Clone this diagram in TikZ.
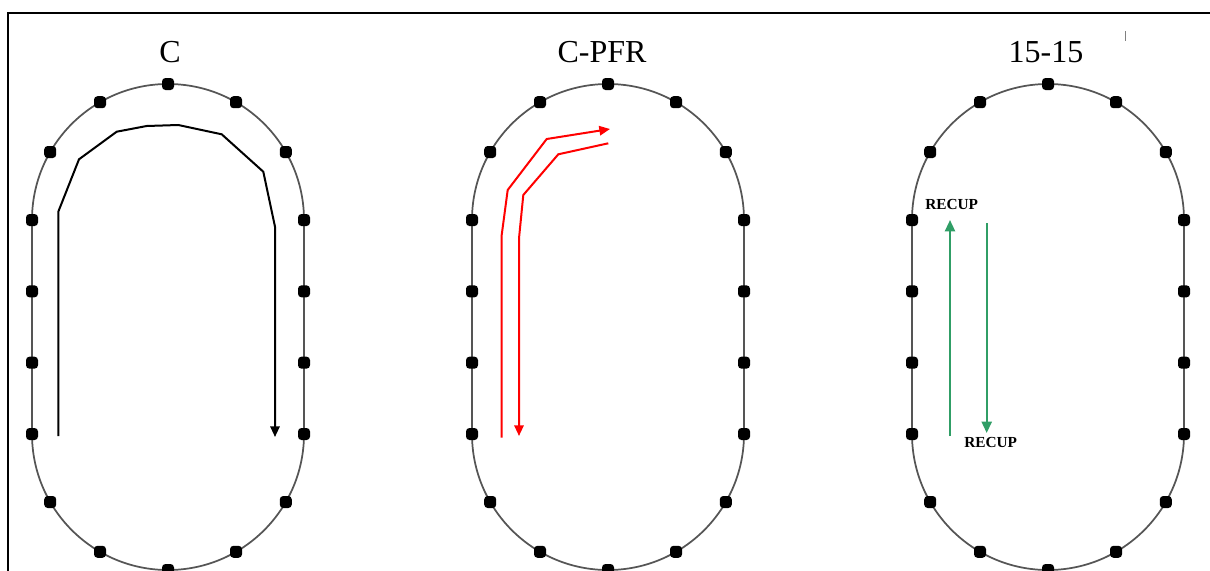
\documentclass[tikz,border=0pt]{standalone}
\usepackage{fontspec}
\setmainfont{Liberation Serif}
\usetikzlibrary{arrows.meta}
\definecolor{trackgray}{RGB}{85,85,85}
\definecolor{recupgreen}{RGB}{48,158,102}
\definecolor{pathred}{RGB}{255,0,0}
\tikzset{
  track/.style={draw=trackgray, line width=1.3pt},
  dot/.style={rectangle, rounded corners=2.6pt, fill=black, inner sep=0pt, minimum size=9pt},
  title/.style={font=\fontsize{24}{26}\selectfont, inner sep=0pt},
  recup/.style={font=\bfseries\fontsize{11.5}{12}\selectfont, inner sep=0pt},
  blackpath/.style={draw=black, line width=1.5pt, -{Triangle[width=7pt,length=8pt]}},
  redpath/.style={draw=pathred, line width=1.5pt, -{Triangle[width=7pt,length=8pt]}},
  greenpath/.style={draw=recupgreen, line width=1.6pt, -{Triangle[width=7.5pt,length=8.5pt]}},
  frameline/.style={draw=black, line width=1.5pt}
}
\begin{document}
\begin{tikzpicture}[x=0.75pt, y=-0.75pt]
\useasboundingbox (0,0) rectangle (1210,571);
\fill[white] (0,0) rectangle (1210,571);
% frame
\coordinate (fbl) at (8.3,575);
\coordinate (ftl) at (8.3,13);
\coordinate (ftr) at (1212,13);
\draw[frameline] (fbl) -- (ftl) -- (ftr);
% stray tick
\coordinate (tk1) at (1125,31);
\coordinate (tk2) at (1125,41);
\draw[gray, line width=0.6pt] (tk1) -- (tk2);
% tracks
\foreach \cx/\t in {168/a,608/b,1048/c}{
  \draw[track] (\cx-136,220) arc[start angle=180, end angle=360, x radius=136, y radius=136]
     -- (\cx+136,434) arc[start angle=0, end angle=180, x radius=136, y radius=136] -- cycle;
  \foreach \a [count=\i] in {0,30,60,90,120,150,180}{
    \node[dot] (top-\t-\i) at ({\cx+136*cos(\a)},{220-136*sin(\a)}) {};
  }
  \foreach \a [count=\i] in {30,60,90,120,150}{
    \node[dot] (bot-\t-\i) at ({\cx+136*cos(\a)},{434+136*sin(\a)}) {};
  }
  \foreach \y [count=\i] in {291.33,362.67,434}{
    \node[dot] (left-\t-\i) at (\cx-136,\y) {};
    \node[dot] (right-\t-\i) at (\cx+136,\y) {};
  }
}
% titles
\node[title] (tC) at (170,52.5) {C};
\node[title] (tCPFR) at (602,52.5) {C-PFR};
\node[title] (t1515) at (1046,52.5) {15-15};
% black path (C)
\coordinate (c0) at (58.3,436);
\coordinate (c9) at (275,437);
\draw[blackpath] (c0) -- (58.3,211.7) -- (79,159.3) -- (116.7,131.7) -- (146.7,126)
   -- (178.3,125) -- (221.7,134.3) -- (263.3,171.7) -- (275,226.7) -- (c9);
% red paths (C-PFR)
\coordinate (ra0) at (501.7,437.7);
\coordinate (ra9) at (610,129);
\draw[redpath] (ra0) -- (501.7,235) -- (507.7,190) -- (546.7,139) -- (ra9);
\coordinate (rb0) at (608.3,143.3);
\coordinate (rb9) at (519,436);
\draw[redpath] (rb0) -- (558.3,154.3) -- (523.3,195) -- (519,238.3) -- (rb9);
% green arrows (15-15)
\node[recup] (r1) at (951.7,204.5) {RECUP};
\node[recup] (r2) at (990.7,442) {RECUP};
\coordinate (g1s) at (950,436);
\coordinate (g1e) at (950,220);
\coordinate (g2s) at (986.7,223);
\coordinate (g2e) at (986.7,433);
\draw[greenpath] (g1s) -- (g1e);
\draw[greenpath] (g2s) -- (g2e);
\end{tikzpicture}
\end{document}
